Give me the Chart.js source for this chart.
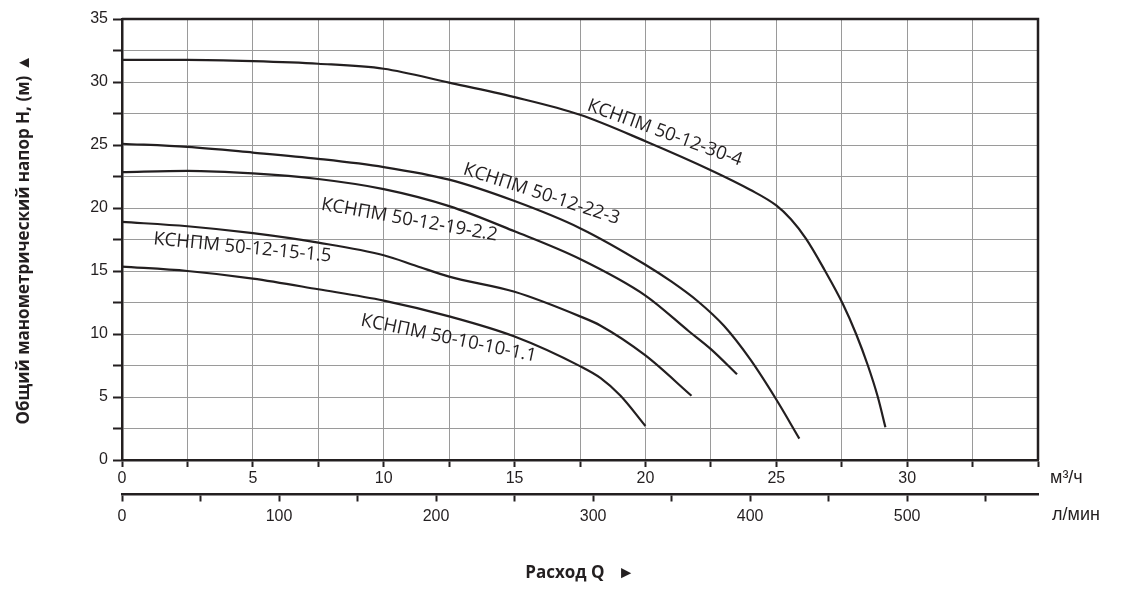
<!DOCTYPE html>
<html>
<head>
<meta charset="utf-8">
<script src="https://cdn.jsdelivr.net/npm/chart.js@4.4.1/dist/chart.umd.min.js"></script>
<style>
    html, body { margin: 0; padding: 0; background: #fff; }
</style>
</head>
<body>
<canvas id="grafico" width="1125" height="605"></canvas>
<script>
// Напорные характеристики насосов КСНПМ
const q30 = [0, 2.5, 5, 7.5, 10, 12.5, 15, 17.5, 20, 22.5, 24, 25, 25.56, 26.14, 26.84, 27.54, 28.05, 28.5, 28.88, 29.17];
const h30 = [31.75, 31.75, 31.65, 31.45, 31.05, 29.95, 28.8, 27.4, 25.3, 23.0, 21.45, 20.2, 19.1, 17.55, 15.1, 12.4, 10.0, 7.5, 5.0, 2.6];

const q22 = [0, 2.5, 5, 7.5, 10, 12.5, 15, 17.5, 20, 21, 22, 23, 24, 25, 25.88];
const h22 = [25.1, 24.85, 24.4, 23.9, 23.25, 22.25, 20.55, 18.4, 15.5, 14.15, 12.6, 10.65, 8.0, 4.8, 1.7];

const q19 = [0, 2.5, 5, 7.5, 10, 12.5, 15, 17.5, 20, 21.67, 22.5, 23.5];
const h19 = [22.85, 22.95, 22.75, 22.3, 21.5, 20.15, 18.15, 15.95, 13.05, 10.2, 8.8, 6.8];

const q15 = [0, 2.5, 5, 7.5, 10, 11.25, 12.5, 15, 17.5, 18.29, 20, 21.76];
const h15 = [18.9, 18.55, 18.0, 17.25, 16.25, 15.4, 14.55, 13.35, 11.4, 10.66, 8.3, 5.1];

const q10 = [0, 2.5, 5, 7.5, 10, 12.5, 15, 17.5, 18.29, 19.05, 20];
const h10 = [15.35, 15.0, 14.4, 13.55, 12.65, 11.4, 9.8, 7.45, 6.5, 5.1, 2.7];

const nomes = ['КСНПМ 50-12-30-4', 'КСНПМ 50-12-22-3', 'КСНПМ 50-12-19-2.2', 'КСНПМ 50-12-15-1.5', 'КСНПМ 50-10-10-1.1'];

// где стоят подписи кривых: Q, H и угол наклона (градусы)
const posRotulos = [
    [20.74, 25.95, 20],
    [16.03, 21.1, 18],
    [10.98, 19.05, 10],
    [4.6, 16.85, 5.6],
    [12.48, 9.65, 11.7]
];

const qMax = 35;          // м3/ч
const lMinPorM3h = 1000 / 60;

const corTexto = '#231f20';
const corGrade = '#9a9a9a';

function pontos(qs, hs) {
    return qs.map((q, i) => ({ x: q, y: hs[i] }));
}

const curvas = [[q30, h30], [q22, h22], [q19, h19], [q15, h15], [q10, h10]];

const datasets = curvas.map((c, i) => ({
    label: nomes[i],
    data: pontos(c[0], c[1]),
    showLine: true,
    borderColor: corTexto,
    borderWidth: 2.2,
    pointRadius: 0,
    cubicInterpolationMode: 'monotone'
}));

// рамка сверху/справа, подписи кривых и единицы измерения
const extras = {
    id: 'extras',
    afterDraw(chart) {
        const ctx = chart.ctx;
        const a = chart.chartArea;
        const sx = chart.scales.x;
        const sy = chart.scales.y;
        const sx2 = chart.scales.x2;
        ctx.save();
        ctx.strokeStyle = corTexto;
        ctx.lineWidth = 2.5;
        ctx.beginPath();
        ctx.moveTo(a.left, a.top);
        ctx.lineTo(a.right, a.top);
        ctx.lineTo(a.right, a.bottom);
        ctx.stroke();

        ctx.fillStyle = corTexto;
        ctx.font = '18.5px "Open Sans"';
        ctx.textAlign = 'center';
        ctx.textBaseline = 'middle';
        posRotulos.forEach((p, i) => {
            ctx.save();
            ctx.translate(sx.getPixelForValue(p[0]), sy.getPixelForValue(p[1]));
            ctx.rotate(p[2] * Math.PI / 180);
            ctx.fillText(nomes[i], 0, 0);
            ctx.restore();
        });

        ctx.font = '18px "Liberation Sans"';
        ctx.textAlign = 'left';
        ctx.fillText('м³/ч', a.right + 12, sx.top + 18);
        ctx.fillText('л/мин', a.right + 14, sx2.top + 21);
        ctx.restore();
    }
};

const fonteTicks = { family: 'Liberation Sans', size: 16 };

const config = {
    type: 'scatter',
    data: { datasets: datasets },
    options: {
        responsive: false,
        animation: false,
        devicePixelRatio: 1,
        layout: { padding: { left: 0, right: 87, top: 19, bottom: 0 } },
        plugins: {
            legend: { display: false },
            tooltip: { enabled: false }
        },
        scales: {
            x: {
                type: 'linear',
                position: 'bottom',
                weight: 0,
                min: 0,
                max: qMax,
                ticks: {
                    stepSize: 2.5,
                    autoSkip: false,
                    maxRotation: 0,
                    padding: 2,
                    color: corTexto,
                    font: fonteTicks,
                    callback: v => (v % 5 === 0 && v < qMax) ? String(v) : ''
                },
                grid: { color: corGrade, lineWidth: 1, tickLength: 7, tickColor: corTexto, tickWidth: 2 },
                border: { color: corTexto, width: 2.5 },
                afterFit: s => { s.height = 34; }
            },
            x2: {
                type: 'linear',
                position: 'bottom',
                weight: 1,
                min: 0,
                max: qMax * lMinPorM3h,
                ticks: {
                    stepSize: 50,
                    includeBounds: false,
                    autoSkip: false,
                    maxRotation: 0,
                    padding: 5,
                    color: corTexto,
                    font: fonteTicks,
                    callback: v => v % 100 === 0 ? String(v) : ''
                },
                grid: { drawOnChartArea: false, tickLength: 7.5, tickColor: corTexto, tickWidth: 2 },
                border: { color: corTexto, width: 2.5 },
                title: {
                    display: true,
                    text: 'Расход Q   ►',
                    color: corTexto,
                    font: { family: 'Open Sans', size: 17, weight: 'bold' },
                    padding: { top: 0, bottom: 22 }
                },
                afterFit: s => { s.height = 111; }
            },
            y: {
                min: 0,
                max: 35,
                ticks: {
                    stepSize: 2.5,
                    autoSkip: false,
                    padding: 5,
                    color: corTexto,
                    font: fonteTicks,
                    callback: v => v % 5 === 0 ? String(v) : ''
                },
                grid: { color: corGrade, lineWidth: 1, tickLength: 9, tickColor: corTexto, tickWidth: 2 },
                border: { color: corTexto, width: 2.5 },
                title: {
                    display: true,
                    text: 'Общий манометрический напор H, (м) ▲',
                    color: corTexto,
                    font: { family: 'Open Sans', size: 17, weight: 'bold' },
                    padding: { top: 14, bottom: 0 }
                },
                afterFit: s => { s.width = 122; }
            }
        }
    },
    plugins: [extras]
};

window.onload = function() {
    new Chart(document.getElementById('grafico'), config);
};
</script>
</body>
</html>
